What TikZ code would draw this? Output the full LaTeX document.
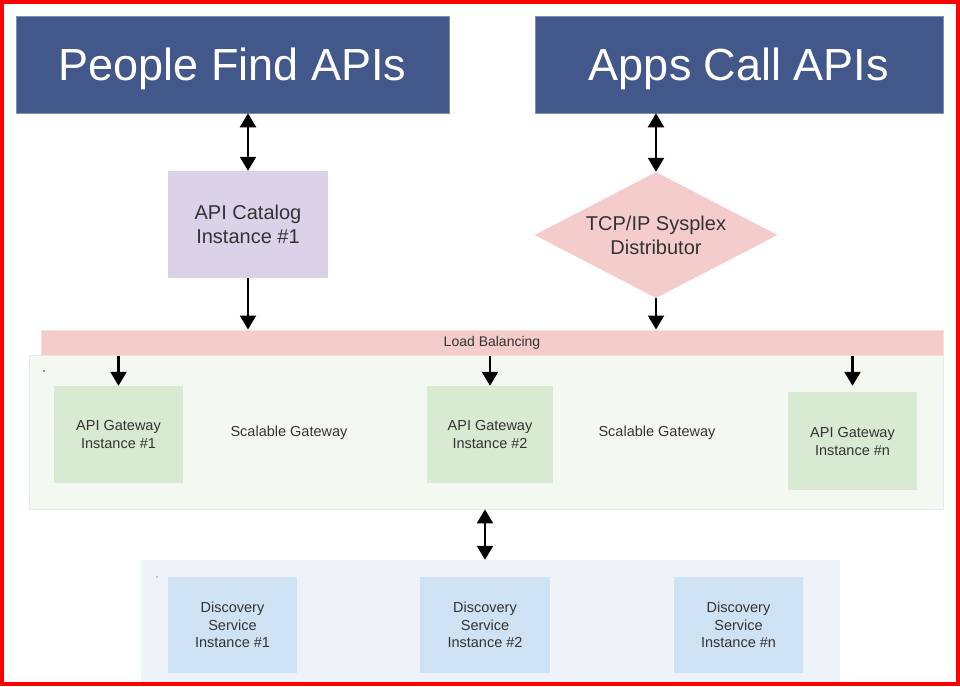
\documentclass[tikz,border=0pt]{standalone}
\usepackage{fontspec}
\setmainfont{Liberation Sans}
\usetikzlibrary{shapes.geometric,arrows.meta}
\definecolor{navy}{HTML}{42578A}
\definecolor{navyedge}{HTML}{7F8FB5}
\definecolor{lavender}{HTML}{D9D2E9}
\definecolor{rosefill}{HTML}{F4CCCC}
\definecolor{roseedge}{HTML}{FBE0CC}
\definecolor{gwback}{HTML}{F3F8F0}
\definecolor{gwedge}{HTML}{E3ECF3}
\definecolor{gwbox}{HTML}{D9EAD3}
\definecolor{dsback}{HTML}{EEF3F9}
\definecolor{dsbox}{HTML}{CFE2F3}
\definecolor{txt}{HTML}{333333}
\definecolor{frame}{HTML}{FF0000}
\begin{document}
\begin{tikzpicture}[x=1pt,y=-1pt,
  titlebox/.style={rectangle, fill=navy, draw=navyedge, line width=0.6, text=white,
    font=\fontsize{45}{54}\selectfont, inner sep=0, text depth=0pt, minimum height=97},
  plainbox/.style={rectangle, inner sep=0, text=txt, align=center},
  gwnode/.style={plainbox, fill=gwbox, minimum width=129, minimum height=97,
    font=\fontsize{14.5}{18}\selectfont},
  dsnode/.style={plainbox, fill=dsbox, minimum width=129, minimum height=96,
    font=\fontsize{14.5}{17.5}\selectfont},
  tip/.style={Triangle[width=16,length=14]},
  arr/.style={-{Triangle[width=16,length=14]}, line width=2.2, black},
  dbl/.style={{Triangle[width=16,length=14]}-{Triangle[width=16,length=14]}, line width=2.2, black},
  speck/.style={circle, fill=txt, inner sep=0, minimum size=1.6}
]
\useasboundingbox (0,0) rectangle (960,686);
\fill[white] (0,0) rectangle (960,686);

% top level boxes
\node[titlebox, minimum width=433] (people) at (232.5,64.5) {People Find APIs};
\node[titlebox, minimum width=408] (apps) at (739,64.5) {Apps Call APIs};

% catalog and distributor
\node[plainbox, fill=lavender, minimum width=160, minimum height=107,
  font=\fontsize{20}{24}\selectfont] (catalog) at (248,224.5) {API Catalog\\Instance \#1};
\node[diamond, fill=rosefill, inner sep=0, text=txt, align=center,
  minimum width=243, minimum height=126, aspect=1.93,
  font=\fontsize{20}{24}\selectfont] (tcp) at (656,235) {TCP/IP Sysplex\\Distributor};

% gateway layer
\node[rectangle, fill=gwback, draw=gwedge, line width=0.8, minimum width=914,
  minimum height=154, inner sep=0] (gwc) at (486,432) {};
\node[rectangle, fill=rosefill, draw=roseedge, line width=1, minimum width=902,
  minimum height=25, inner sep=0, text=txt, font=\fontsize{14}{16}\selectfont] (lb) at (492,342.5) {Load Balancing};
\node[speck] (gwdot) at (44,371) {};
\node[gwnode] (gw1) at (118.5,434.5) {API Gateway\\Instance \#1};
\node[gwnode, minimum width=126] (gw2) at (490,434.5) {API Gateway\\Instance \#2};
\node[gwnode, minimum height=98] (gwn) at (852.5,441) {API Gateway\\Instance \#n};
\node[plainbox, font=\fontsize{14.5}{18}\selectfont] (sg1) at (289,433) {Scalable Gateway};
\node[plainbox, font=\fontsize{14.5}{18}\selectfont] (sg2) at (657,433) {Scalable Gateway};

% discovery layer
\node[rectangle, fill=dsback, minimum width=699, minimum height=124, inner sep=0] (dsc) at (490.5,622) {};
\node[speck, minimum size=1.3] (dsdot) at (157,577) {};
\node[dsnode] (ds1) at (232.5,625) {Discovery\\Service\\Instance \#1};
\node[dsnode, minimum width=130] (ds2) at (485,625) {Discovery\\Service\\Instance \#2};
\node[dsnode] (dsn) at (738.5,625) {Discovery\\Service\\Instance \#n};

% connectors
\draw[dbl] (people.south -| catalog.north) -- (catalog.north);
\draw[dbl] (apps.south -| tcp.north) -- (tcp.north);
\draw[arr] (catalog.south) -- (catalog.south |- lb.north);
\draw[arr] (tcp.south) -- (tcp.south |- lb.north);
\draw[arr] (lb.south -| gw1.north) -- (gw1.north);
\draw[arr] (lb.south -| gw2.north) -- (gw2.north);
\draw[arr, shorten >=6] (lb.south -| gwn.north) -- (gwn.north);
\draw[dbl] (gwc.south -| ds2.north) -- (dsc.north -| ds2.north);

% outer frame
\draw[frame, line width=4] (2,2) rectangle (957.5,684);
\end{tikzpicture}
\end{document}
